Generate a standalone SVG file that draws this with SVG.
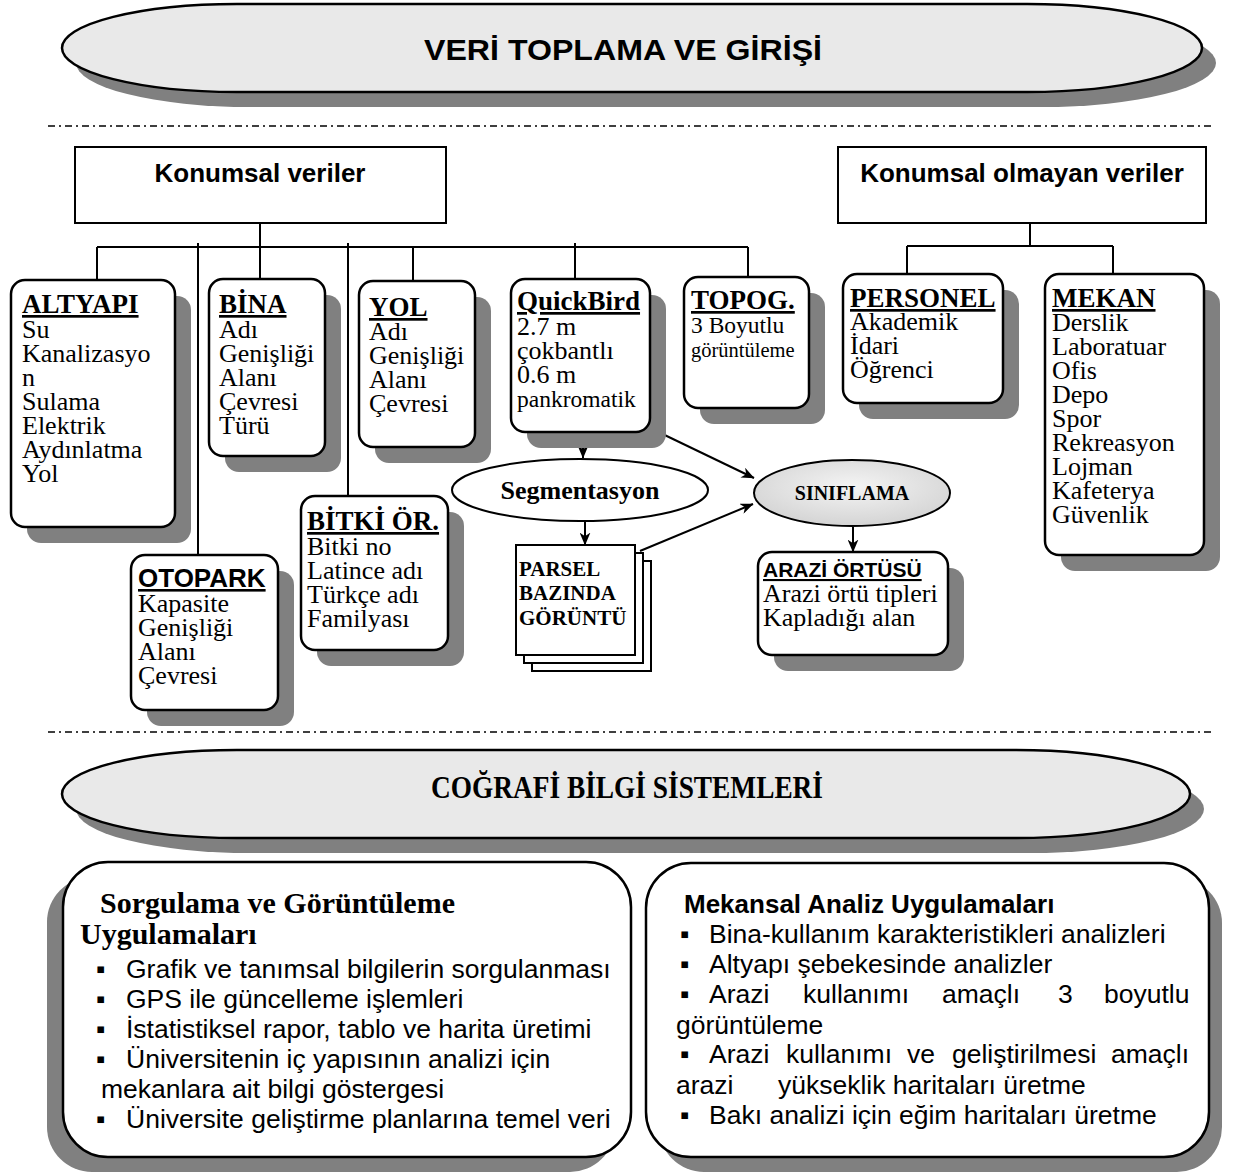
<svg xmlns="http://www.w3.org/2000/svg" width="1234" height="1173" viewBox="0 0 1234 1173">
<style>
.bx{fill:#fff;stroke:#000;stroke-width:2.5}
.sh{fill:#808080}
.ser{font-family:"Liberation Serif","Times New Roman",serif}
.san{font-family:"Liberation Sans",Arial,sans-serif}
.b{font-size:26px}
.ttl{font-size:27px;font-weight:bold;text-decoration:underline}
.cn{fill:none;stroke:#000;stroke-width:2}
.arr{fill:none;stroke:#000;stroke-width:2;marker-end:url(#ah)}
.dash{stroke:#000;stroke-width:1.5;stroke-dasharray:7 4 2 4}
.bl{font-family:"Liberation Sans","DejaVu Sans",sans-serif;font-size:26.5px}
</style>
<defs>
<marker id="ah" viewBox="0 0 12 10" refX="11.5" refY="5" markerWidth="13" markerHeight="11" markerUnits="userSpaceOnUse" orient="auto">
<path d="M0,0 L12,5 L0,10 L3.5,5 Z" fill="#000"/>
</marker>
<radialGradient id="sg" cx="0.5" cy="0.4" r="0.6">
<stop offset="0" stop-color="#f4f4f4"/>
<stop offset="1" stop-color="#d4d4d4"/>
</radialGradient>
</defs>
<rect width="1234" height="1173" fill="#fff"/>

<g id="title-veri">
<path class="sh" d="M 251 19 H 1041 A 175 44 0 0 1 1041 107 H 251 A 175 44 0 0 1 251 19 Z"/>
<path d="M 237 4 H 1027 A 175 44 0 0 1 1027 92 H 237 A 175 44 0 0 1 237 4 Z" fill="#e9e9e9" stroke="#000" stroke-width="2.5"/>
<text class="san" x="424" y="60" font-size="30" font-weight="bold" textLength="398" lengthAdjust="spacingAndGlyphs">VERİ TOPLAMA VE GİRİŞİ</text>
</g>

<line class="dash" x1="48" y1="126" x2="1212" y2="126"/>
<line class="dash" x1="48" y1="732" x2="1212" y2="732"/>

<g id="connectors">
<path class="cn" d="M 260 223 V 247 M 97 247 H 748 M 97 247 V 280 M 198 243 V 555 M 260 247 V 279 M 348 243 V 496 M 413 247 V 281 M 575 243 V 279 M 748 247 V 277"/>
<path class="cn" d="M 1030 223 V 246 M 907 246 H 1113 M 907 246 V 274 M 1113 246 V 274"/>
<path class="arr" d="M 583 432 V 458"/>
<path class="arr" d="M 648 427 L 754 478"/>
<path class="arr" d="M 585 521 V 545"/>
<path class="arr" d="M 640 551 L 753 504"/>
<path class="arr" d="M 853 527 V 552"/>
</g>

<g id="konumsal">
<rect class="bx" x="75" y="147" width="371" height="76" style="stroke-width:2"/>
<text class="san" x="260" y="182" font-size="26" font-weight="bold" text-anchor="middle">Konumsal veriler</text>
</g>

<g id="konumsal-olmayan">
<rect class="bx" x="838" y="147" width="368" height="76" style="stroke-width:2"/>
<text class="san" x="1022" y="182" font-size="26" font-weight="bold" text-anchor="middle">Konumsal olmayan veriler</text>
</g>

<g id="altyapi">
<rect class="sh" x="27" y="296" width="164" height="247" rx="14"/>
<rect class="bx" x="11" y="280" width="164" height="247" rx="14"/>
<text class="ser ttl" x="22" y="313">ALTYAPI</text>
<text class="ser b"><tspan x="22" y="338">Su</tspan><tspan x="22" y="362">Kanalizasyo</tspan><tspan x="22" y="386">n</tspan><tspan x="22" y="410">Sulama</tspan><tspan x="22" y="434">Elektrik</tspan><tspan x="22" y="458">Aydınlatma</tspan><tspan x="22" y="482">Yol</tspan></text>
</g>

<g id="bina">
<rect class="sh" x="225" y="295" width="116" height="177" rx="14"/>
<rect class="bx" x="209" y="279" width="116" height="177" rx="14"/>
<text class="ser ttl" x="219" y="313">BİNA</text>
<text class="ser b"><tspan x="219" y="338">Adı</tspan><tspan x="219" y="362">Genişliği</tspan><tspan x="219" y="386">Alanı</tspan><tspan x="219" y="410">Çevresi</tspan><tspan x="219" y="434">Türü</tspan></text>
</g>

<g id="yol">
<rect class="sh" x="375" y="297" width="116" height="166" rx="14"/>
<rect class="bx" x="359" y="281" width="116" height="166" rx="14"/>
<text class="ser ttl" x="369" y="316">YOL</text>
<text class="ser b"><tspan x="369" y="340">Adı</tspan><tspan x="369" y="364">Genişliği</tspan><tspan x="369" y="388">Alanı</tspan><tspan x="369" y="412">Çevresi</tspan></text>
</g>

<g id="quickbird">
<rect class="sh" x="527" y="295" width="139" height="153" rx="14"/>
<rect class="bx" x="511" y="279" width="139" height="153" rx="14"/>
<text class="ser ttl" x="517" y="310">QuickBird</text>
<text class="ser b"><tspan x="517" y="335">2.7 m</tspan><tspan x="517" y="359">çokbantlı</tspan><tspan x="517" y="383">0.6 m</tspan><tspan x="517" y="407" font-size="23.5">pankromatik</tspan></text>
</g>

<g id="topog">
<rect class="sh" x="700" y="293" width="125" height="131" rx="14"/>
<rect class="bx" x="684" y="277" width="125" height="131" rx="14"/>
<text class="ser ttl" x="691" y="309">TOPOG.</text>
<text class="ser"><tspan x="691" y="333" font-size="23.5">3 Boyutlu</tspan><tspan x="691" y="357" font-size="20.5">görüntüleme</tspan></text>
</g>

<g id="personel">
<rect class="sh" x="859" y="290" width="160" height="129" rx="14"/>
<rect class="bx" x="843" y="274" width="160" height="129" rx="14"/>
<text class="ser ttl" x="850" y="307">PERSONEL</text>
<text class="ser b"><tspan x="850" y="330">Akademik</tspan><tspan x="850" y="354">İdari</tspan><tspan x="850" y="378">Öğrenci</tspan></text>
</g>

<g id="mekan">
<rect class="sh" x="1061" y="290" width="159" height="281" rx="14"/>
<rect class="bx" x="1045" y="274" width="159" height="281" rx="14"/>
<text class="ser ttl" x="1052" y="307">MEKAN</text>
<text class="ser b"><tspan x="1052" y="331">Derslik</tspan><tspan x="1052" y="355">Laboratuar</tspan><tspan x="1052" y="379">Ofis</tspan><tspan x="1052" y="403">Depo</tspan><tspan x="1052" y="427">Spor</tspan><tspan x="1052" y="451">Rekreasyon</tspan><tspan x="1052" y="475">Lojman</tspan><tspan x="1052" y="499">Kafeterya</tspan><tspan x="1052" y="523">Güvenlik</tspan></text>
</g>

<g id="otopark">
<rect class="sh" x="147" y="571" width="147" height="155" rx="14"/>
<rect class="bx" x="131" y="555" width="147" height="155" rx="14"/>
<text class="san" x="138" y="587" font-size="26" font-weight="bold" text-decoration="underline">OTOPARK</text>
<text class="ser b"><tspan x="138" y="612">Kapasite</tspan><tspan x="138" y="636">Genişliği</tspan><tspan x="138" y="660">Alanı</tspan><tspan x="138" y="684">Çevresi</tspan></text>
</g>

<g id="bitki">
<rect class="sh" x="317" y="512" width="147" height="154" rx="14"/>
<rect class="bx" x="301" y="496" width="147" height="154" rx="14"/>
<text class="ser ttl" x="307" y="530">BİTKİ ÖR.</text>
<text class="ser b"><tspan x="307" y="555">Bitki no</tspan><tspan x="307" y="579">Latince adı</tspan><tspan x="307" y="603">Türkçe adı</tspan><tspan x="307" y="627">Familyası</tspan></text>
</g>

<g id="segmentasyon">
<ellipse cx="580" cy="490" rx="128" ry="31" fill="#fff" stroke="#000" stroke-width="2"/>
<text class="ser" x="580" y="499" font-size="26" font-weight="bold" text-anchor="middle">Segmentasyon</text>
</g>

<g id="siniflama">
<ellipse cx="852" cy="493" rx="98" ry="33" fill="url(#sg)" stroke="#000" stroke-width="2"/>
<text class="ser" x="852" y="500" font-size="20" font-weight="bold" text-anchor="middle">SINIFLAMA</text>
</g>

<g id="parsel">
<rect x="532" y="561" width="119" height="110" fill="#fff" stroke="#000" stroke-width="2"/>
<rect x="524" y="553" width="119" height="110" fill="#fff" stroke="#000" stroke-width="2"/>
<rect x="516" y="545" width="119" height="110" fill="#fff" stroke="#000" stroke-width="2"/>
<text class="ser" font-size="21" font-weight="bold"><tspan x="519" y="576">PARSEL</tspan><tspan x="519" y="600">BAZINDA</tspan><tspan x="519" y="625">GÖRÜNTÜ</tspan></text>
</g>

<g id="arazi-ortusu">
<rect class="sh" x="774" y="568" width="190" height="103" rx="14"/>
<rect class="bx" x="758" y="552" width="190" height="103" rx="14"/>
<text class="san" x="763" y="577" font-size="21" font-weight="bold" text-decoration="underline">ARAZİ ÖRTÜSÜ</text>
<text class="ser b"><tspan x="763" y="602">Arazi örtü tipleri</tspan><tspan x="763" y="626">Kapladığı alan</tspan></text>
</g>

<g id="title-cbs">
<path class="sh" d="M 251 765 H 1029 A 175 44 0 0 1 1029 853 H 251 A 175 44 0 0 1 251 765 Z"/>
<path d="M 237 750 H 1015 A 175 44 0 0 1 1015 838 H 237 A 175 44 0 0 1 237 750 Z" fill="#e9e9e9" stroke="#000" stroke-width="2.5"/>
<text class="ser" x="431" y="798" font-size="32" font-weight="bold" textLength="392" lengthAdjust="spacingAndGlyphs">COĞRAFİ BİLGİ SİSTEMLERİ</text>
</g>

<g id="sorgulama">
<rect class="sh" x="47" y="877" width="568" height="295" rx="45"/>
<rect class="bx" x="63" y="862" width="568" height="295" rx="45"/>
<text class="ser" font-size="30" font-weight="bold"><tspan x="100" y="913">Sorgulama ve Görüntüleme</tspan><tspan x="80" y="944">Uygulamaları</tspan></text>
<text class="bl">
<tspan x="96" y="978">▪</tspan><tspan x="126" y="978">Grafik ve tanımsal bilgilerin sorgulanması</tspan>
<tspan x="96" y="1008">▪</tspan><tspan x="126" y="1008">GPS ile güncelleme işlemleri</tspan>
<tspan x="96" y="1038">▪</tspan><tspan x="126" y="1038">İstatistiksel rapor, tablo ve harita üretimi</tspan>
<tspan x="96" y="1068">▪</tspan><tspan x="126" y="1068">Üniversitenin iç yapısının analizi için</tspan>
<tspan x="101" y="1098">mekanlara ait bilgi göstergesi</tspan>
<tspan x="96" y="1128">▪</tspan><tspan x="126" y="1128">Üniversite geliştirme planlarına temel veri</tspan>
</text>
</g>

<g id="mekansal">
<rect class="sh" x="659" y="878" width="563" height="294" rx="45"/>
<rect class="bx" x="646" y="863" width="563" height="294" rx="45"/>
<text class="san" x="684" y="913" font-size="26" font-weight="bold">Mekansal Analiz Uygulamaları</text>
<text class="bl">
<tspan x="680" y="943">▪</tspan><tspan x="709" y="943">Bina-kullanım karakteristikleri analizleri</tspan>
<tspan x="680" y="973">▪</tspan><tspan x="709" y="973">Altyapı şebekesinde analizler</tspan>
<tspan x="680" y="1003">▪</tspan><tspan x="709" y="1003">Arazi</tspan><tspan x="803" y="1003">kullanımı</tspan><tspan x="942" y="1003">amaçlı</tspan><tspan x="1058" y="1003">3</tspan><tspan x="1104" y="1003">boyutlu</tspan>
<tspan x="676" y="1034">görüntüleme</tspan>
<tspan x="680" y="1063">▪</tspan><tspan x="709" y="1063">Arazi</tspan><tspan x="786" y="1063">kullanımı</tspan><tspan x="907" y="1063">ve</tspan><tspan x="952" y="1063">geliştirilmesi</tspan><tspan x="1111" y="1063">amaçlı</tspan>
<tspan x="676" y="1094">arazi</tspan><tspan x="778" y="1094">yükseklik haritaları üretme</tspan>
<tspan x="680" y="1124">▪</tspan><tspan x="709" y="1124">Bakı analizi için eğim haritaları üretme</tspan>
</text>
</g>
</svg>
